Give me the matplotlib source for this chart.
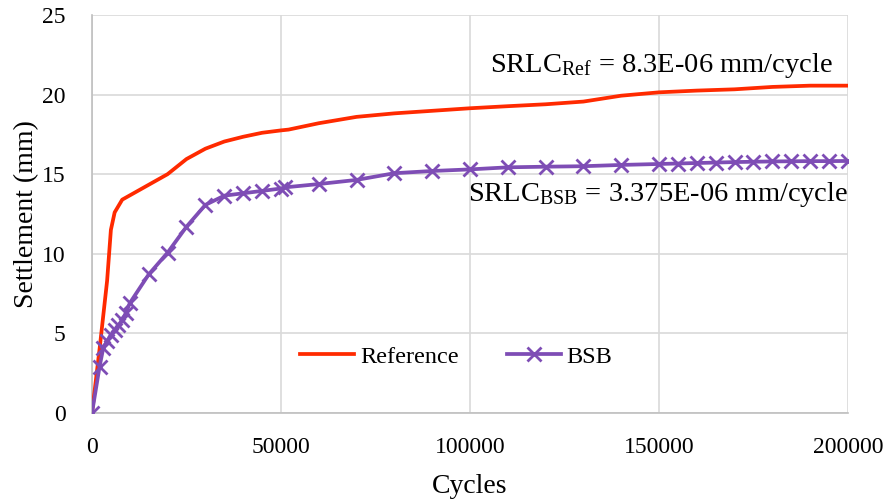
import matplotlib
matplotlib.use("Agg")
import matplotlib.pyplot as plt

ref_cycles = [0, 2000, 4000, 5000, 6000, 8000, 20000, 25000, 30000, 35000, 40000, 45000,
              50000, 52000, 60000, 70000, 80000, 90000, 100000, 110000, 120000, 130000,
              140000, 150000, 160000, 170000, 180000, 190000, 200000]
ref_settle = [0, 4.0, 8.3, 11.5, 12.6, 13.4, 15.0, 15.95, 16.6, 17.05, 17.35, 17.6,
              17.75, 17.8, 18.2, 18.6, 18.82, 18.98, 19.14, 19.27, 19.39, 19.56,
              19.93, 20.14, 20.25, 20.33, 20.48, 20.56, 20.56]

bsb_cycles = [0, 2000, 3000, 4000, 5000, 6000, 7000, 8000, 9000, 10000, 15000, 20000,
              25000, 30000, 35000, 40000, 45000, 50000, 51000, 60000, 70000, 80000,
              90000, 100000, 110000, 120000, 130000, 140000, 150000, 155000, 160000,
              165000, 170000, 175000, 180000, 185000, 190000, 195000, 200000]
bsb_settle = [0, 2.9, 4.1, 4.5, 4.9, 5.2, 5.5, 5.85, 6.3, 6.9, 8.7, 10.07,
              11.7, 13.07, 13.65, 13.8, 13.95, 14.1, 14.17, 14.38, 14.64, 15.06,
              15.2, 15.3, 15.43, 15.47, 15.5, 15.58, 15.64, 15.67, 15.7,
              15.73, 15.76, 15.78, 15.8, 15.81, 15.82, 15.82, 15.83]

x_ticks = [0, 50000, 100000, 150000, 200000]
y_ticks = [0, 5, 10, 15, 20, 25]

plt.rcParams['font.family'] = ['Liberation Serif', 'DejaVu Serif']
plt.rcParams['mathtext.fontset'] = 'custom'
plt.rcParams['mathtext.rm'] = 'Liberation Serif'
plt.rcParams['mathtext.it'] = 'Liberation Serif:italic'

fig = plt.figure(figsize=(8.87, 5.04), dpi=100)
ax = fig.add_axes([0.1037, 0.1806, 0.8523, 0.7897])

red = '#FF2A00'
purple = '#7E4DB5'
ax.plot(ref_cycles, ref_settle, color=red, lw=2.7, label='Reference', zorder=3)
ax.plot(bsb_cycles, bsb_settle, color=purple, lw=2.7, marker='x', ms=10, mew=2,
        label='BSB', zorder=4)

ax.set_xlim(0, 200000)
ax.set_ylim(0, 25)
ax.set_xticks(x_ticks)
ax.set_yticks(y_ticks)
ax.set_xticklabels([str(v) for v in x_ticks])
ax.set_yticklabels([str(v) for v in y_ticks])
ax.tick_params(axis='both', length=0, labelsize=17)
ax.tick_params(axis='y', pad=19)
ax.tick_params(axis='x', pad=17)

ax.grid(True, color='#D9D9D9', lw=1.2)
ax.set_axisbelow(True)
for s in ['top', 'right']:
    ax.spines[s].set_visible(False)
for s in ['left', 'bottom']:
    ax.spines[s].set_color('#BFBFBF')
    ax.spines[s].set_linewidth(1.2)

ax.set_xlabel('Cycles', fontsize=20, labelpad=12)
ax.set_ylabel('Settlement (mm)', fontsize=20, labelpad=2)

ax.text(196000, 21.85, r'SRLC$_{\mathrm{Ref}}$ = 8.3E-06 mm/cycle', fontsize=20.5,
        ha='right', va='center')
ax.text(200000, 13.75, r'SRLC$_{\mathrm{BSB}}$ = 3.375E-06 mm/cycle', fontsize=20.5,
        ha='right', va='center')

leg = ax.legend(loc='center', bbox_to_anchor=(0.482, 0.141), ncol=2, frameon=False,
                fontsize=17.5, handlelength=2.2, columnspacing=2.0, handletextpad=0.25)

fig.savefig('out.png', dpi=100, facecolor='white')
